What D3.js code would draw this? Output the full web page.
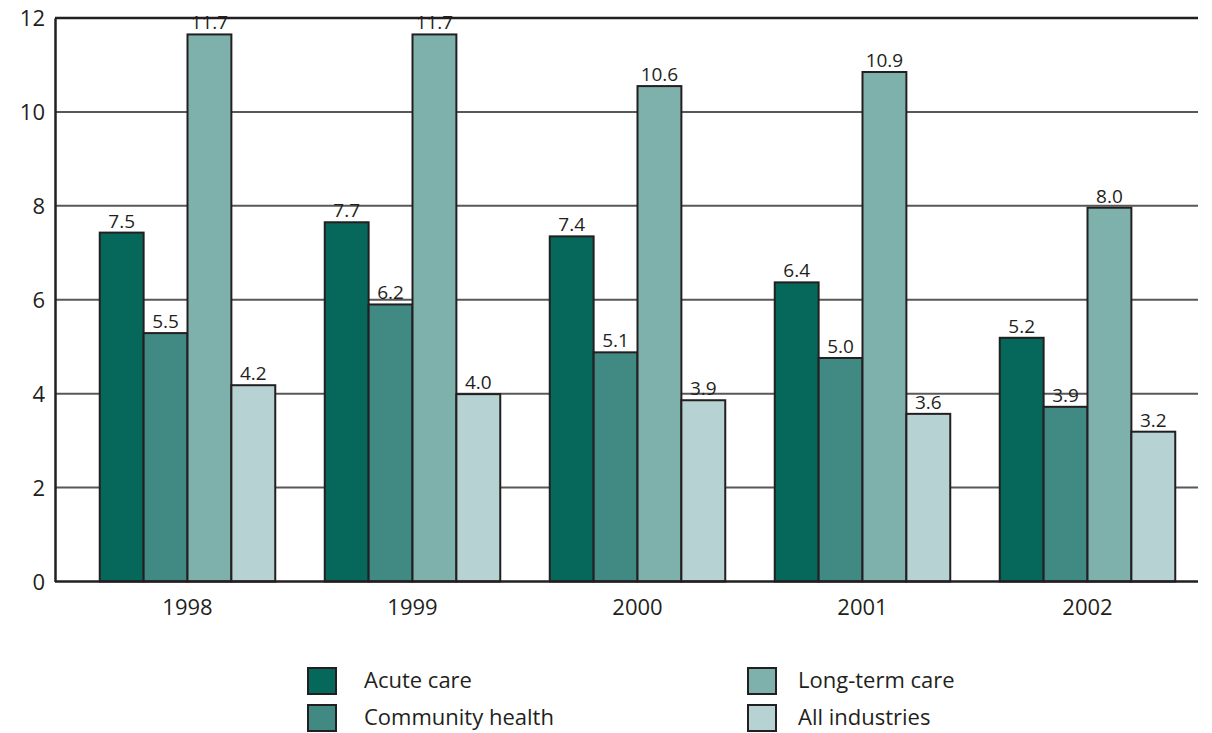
<!DOCTYPE html>
<html>
<head>
<meta charset="utf-8">
<script src="https://cdn.jsdelivr.net/npm/d3@7"></script>
<style>
  body { margin: 0; background: #fff; }
  text { font-family: "Open Sans", "DejaVu Sans", sans-serif; fill: #231f20; }
</style>
</head>
<body>
<svg id="chart" width="1212" height="733"></svg>
<script>
// data
var years = ['1998', '1999', '2000', '2001', '2002'];
var seriesNames = ['Acute care', 'Community health', 'Long-term care', 'All industries'];
var colors = ['#05685a', '#418a84', '#7fb1ac', '#b7d2d2'];

// bar heights as drawn
var acute     = [7.43, 7.65, 7.35, 6.37, 5.19];
var community = [5.29, 5.90, 4.88, 4.76, 3.72];
var longTerm  = [11.65, 11.65, 10.55, 10.85, 7.96];
var allInd    = [4.18, 3.99, 3.86, 3.57, 3.19];

// printed labels
var acuteLbl     = ['7.5', '7.7', '7.4', '6.4', '5.2'];
var communityLbl = ['5.5', '6.2', '5.1', '5.0', '3.9'];
var longTermLbl  = ['11.7', '11.7', '10.6', '10.9', '8.0'];
var allIndLbl    = ['4.2', '4.0', '3.9', '3.6', '3.2'];

var yTicks = [0, 2, 4, 6, 8, 10, 12];

var series = [acute, community, longTerm, allInd];
var labels = [acuteLbl, communityLbl, longTermLbl, allIndLbl];

var svg = d3.select('#chart');
// note: "top" is taken by window.top, so m-prefixed names
var mLeft = 55, mRight = 1198, mTop = 18, mBottom = 581.5;

var x = d3.scaleBand().domain(years).range([75, 1200]).paddingInner(0.22).paddingOuter(0.11);
var xs = d3.scaleBand().domain(d3.range(4)).range([0, x.bandwidth()]);
var y = d3.scaleLinear().domain([0, 12]).range([mBottom, mTop]);

// gridlines
svg.append('g').selectAll('line')
  .data(yTicks.filter(function(d) { return d > 0 && d < 12; }))
  .join('line')
  .attr('x1', mLeft).attr('x2', mRight)
  .attr('y1', function(d) { return y(d); }).attr('y2', function(d) { return y(d); })
  .attr('stroke', '#58585a').attr('stroke-width', 2);

// frame: top line, left axis
svg.append('line').attr('x1', mLeft).attr('x2', mRight).attr('y1', y(12)).attr('y2', y(12))
  .attr('stroke', '#231f20').attr('stroke-width', 2.5);

var yAxis = d3.axisLeft(y).tickValues(yTicks).tickSize(0).tickPadding(10);
var gy = svg.append('g').attr('transform', 'translate(' + mLeft + ',0)').call(yAxis);
gy.select('.domain').attr('stroke', '#231f20').attr('stroke-width', 2.5);
gy.selectAll('text').attr('font-size', 22).attr('dy', '0.35em').attr('x', -10);

// bars
var groups = svg.append('g').selectAll('g')
  .data(years)
  .join('g')
  .attr('transform', function(d) { return 'translate(' + x(d) + ',0)'; });

function rows(d, i) {
  return series.map(function(s, k) { return { k: k, v: s[i], l: labels[k][i] }; });
}

groups.selectAll('rect')
  .data(rows)
  .join('rect')
  .attr('x', function(d) { return xs(d.k); })
  .attr('width', xs.bandwidth())
  .attr('y', function(d) { return y(d.v); })
  .attr('height', function(d) { return y(0) - y(d.v); })
  .attr('fill', function(d) { return colors[d.k]; })
  .attr('stroke', '#231f20').attr('stroke-width', 2);

groups.selectAll('text.val')
  .data(rows)
  .join('text')
  .attr('class', 'val')
  .attr('x', function(d) { return xs(d.k) + xs.bandwidth() / 2; })
  .attr('y', function(d) { return y(d.v) - 5; })
  .attr('text-anchor', 'middle')
  .attr('font-size', 19)
  .text(function(d) { return d.l; });

// bottom axis
var xAxis = d3.axisBottom(x).tickSize(0).tickPadding(18);
var gx = svg.append('g').attr('transform', 'translate(0,' + mBottom + ')').call(xAxis);
gx.select('.domain').remove();
gx.selectAll('text').attr('font-size', 22);
svg.append('line').attr('x1', mLeft).attr('x2', mRight).attr('y1', mBottom).attr('y2', mBottom)
  .attr('stroke', '#231f20').attr('stroke-width', 2.5);

// legend
var legX = [308, 748], legTxt = [56, 50], legY = [668, 705];
var leg = svg.append('g').selectAll('g')
  .data(seriesNames)
  .join('g')
  .attr('transform', function(d, i) {
    var col = i < 2 ? 0 : 1, row = i % 2;
    return 'translate(' + legX[col] + ',' + legY[row] + ')';
  });
leg.append('rect').attr('width', 28).attr('height', 26)
  .attr('fill', function(d, i) { return colors[i]; })
  .attr('stroke', '#231f20').attr('stroke-width', 2);
leg.append('text').attr('x', function(d, i) { return legTxt[i < 2 ? 0 : 1]; })
  .attr('y', 20).attr('font-size', 22)
  .text(function(d) { return d; });
</script>
</body>
</html>
